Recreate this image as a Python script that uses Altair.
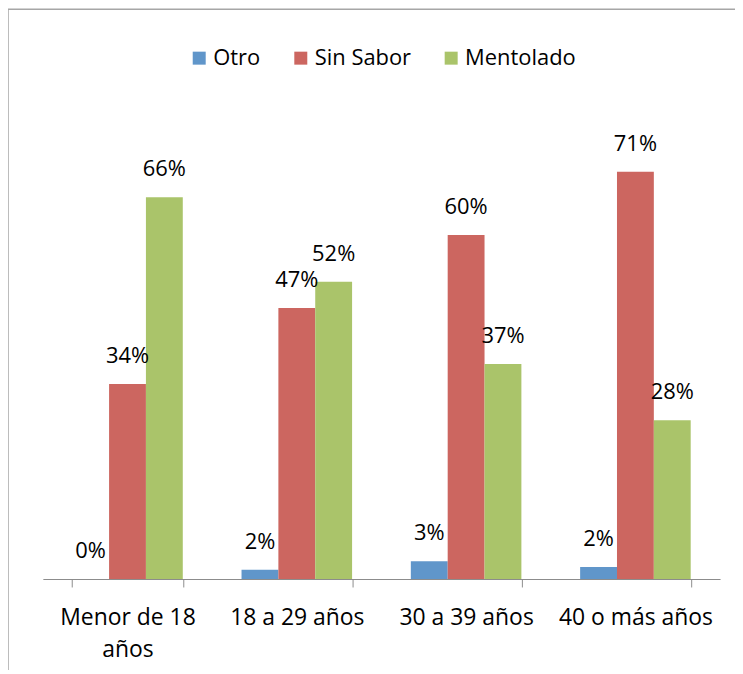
import altair as alt
import pandas as pd

categories = ["Menor de 18 años", "18 a 29 años", "30 a 39 años", "40 o más años"]
series = ["Otro", "Sin Sabor", "Mentolado"]
otro = [0.0, 1.6, 3.1, 2.1]
sin_sabor = [33.9, 47.1, 59.8, 70.8]
mentolado = [66.4, 51.7, 37.4, 27.6]
colors = ["#6096CA", "#CC6660", "#AAC46A"]

rows = []
for name, vals in zip(series, [otro, sin_sabor, mentolado]):
    for c, v in zip(categories, vals):
        rows.append({"cat": c, "serie": name, "value": v})
df = pd.DataFrame(rows)

FONT = "Open Sans"

x = alt.X(
    "cat:N",
    sort=categories,
    title=None,
    scale=alt.Scale(paddingInner=0.347, paddingOuter=0.1735),
    axis=alt.Axis(
        tickBand="extent",
        tickSize=8,
        domainColor="#8c8c8c",
        tickColor="#8c8c8c",
        domainWidth=1.2,
        labelAngle=0,
        labelFontSize=23,
        labelFont=FONT,
        labelColor="#000000",
        labelPadding=20,
        labelBaseline="top",
        labelLineHeight=32,
        labelLimit=200,
        labelExpr="datum.value == 'Menor de 18 años' ? ['Menor de 18', 'años'] : datum.value",
    ),
)
xo = alt.XOffset("serie:N", sort=series, scale=alt.Scale(paddingInner=0, paddingOuter=0))
y = alt.Y("value:Q", scale=alt.Scale(domain=[0, 80]), axis=None)

base = alt.Chart(df)

bars = base.mark_bar().encode(
    x=x,
    xOffset=xo,
    y=y,
    color=alt.Color(
        "serie:N",
        sort=series,
        scale=alt.Scale(domain=series, range=colors),
        legend=alt.Legend(
            title=None,
            orient="none",
            legendX=146,
            legendY=-72,
            direction="horizontal",
            symbolType="square",
            symbolSize=170,
            symbolStrokeWidth=0,
            labelFontSize=22,
            labelFont=FONT,
            labelColor="#000000",
            labelOffset=3,
            columnPadding=29,
        ),
    ),
)

labels = base.mark_text(
    font=FONT, fontSize=22, color="#000000", baseline="middle", dy=-28
).transform_calculate(
    label="format(datum.value, '.0f') + '%'"
).encode(
    x=x,
    xOffset=xo,
    y=y,
    text="label:N",
)

frame_df = pd.DataFrame({"a": [0]})
left_border = alt.Chart(frame_df).mark_rule(color="#a6a6a6", strokeWidth=1.5).encode(
    x=alt.value(-35), x2=alt.value(-35), y=alt.value(-110), y2=alt.value(570)
)
top_border = alt.Chart(frame_df).mark_rule(color="#a6a6a6", strokeWidth=1.5).encode(
    x=alt.value(-35), x2=alt.value(700), y=alt.value(-110), y2=alt.value(-110)
)

chart = (
    alt.layer(left_border, top_border, bars, labels)
    .properties(
        width=680,
        height=462,
        background="#ffffff",
        autosize=alt.AutoSizeParams(type="none"),
        padding={"left": 35, "top": 110, "right": 15, "bottom": 90},
    )
    .configure_view(strokeWidth=0, stroke="transparent")
)

chart.save("out.html", embed_options={"renderer": "svg", "actions": False})
